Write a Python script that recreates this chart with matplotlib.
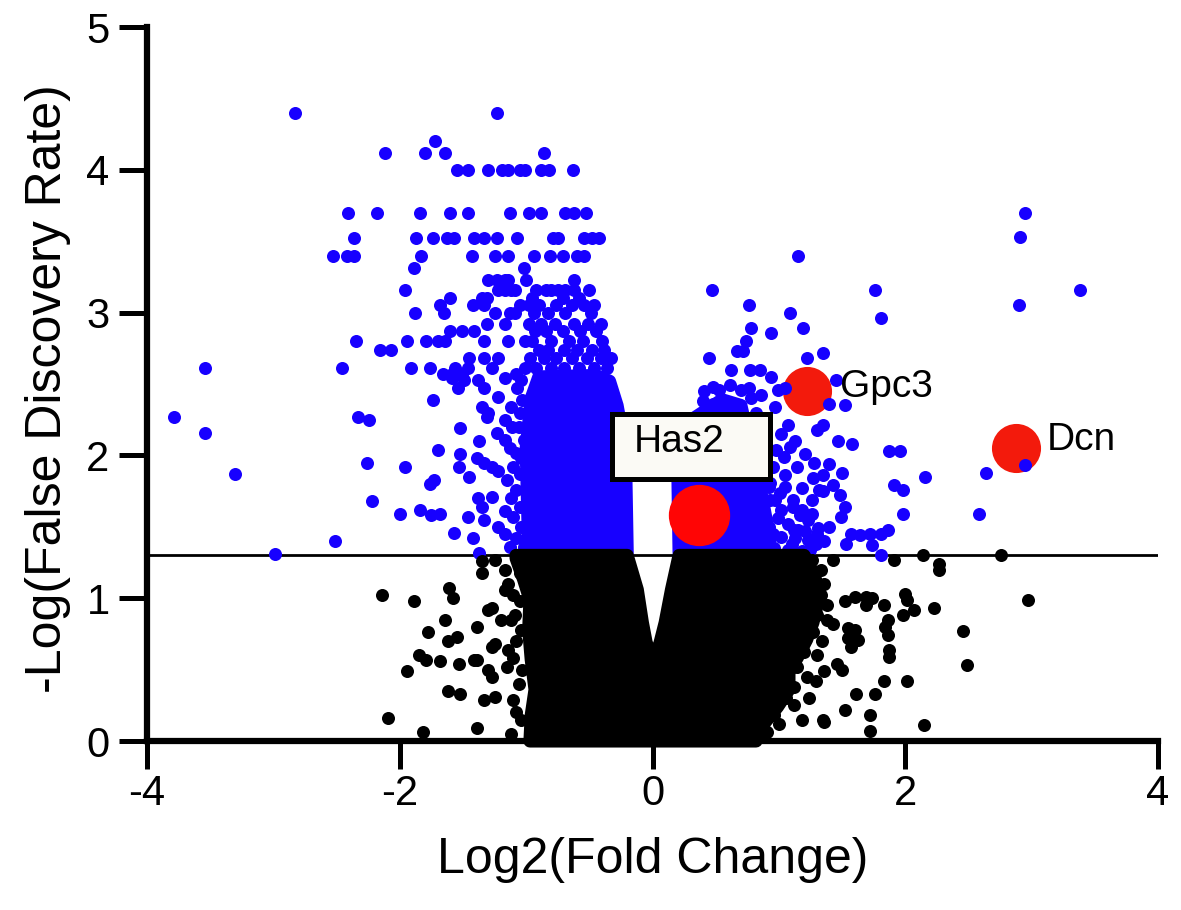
import matplotlib
matplotlib.use("Agg")
import matplotlib.pyplot as plt
from matplotlib.patches import Rectangle

plt.rcParams["font.family"] = ["Liberation Sans", "DejaVu Sans"]
plt.rcParams["axes.unicode_minus"] = False

# ---- values: x = log2 fold change, y = -log10 FDR ----
fdr_cut = 1.3

# significant, down (blue) - grouped by the FDR levels they sit on
blue_left_rows = [
    (4.40, [-2.83, -1.23]),
    (4.20, [-1.72]),
    (4.12, [-2.12, -1.80, -1.64, -0.86]),
    (4.00, [-1.55, -1.46, -1.30, -1.19, -1.14, -1.05, -1.01, -0.88, -0.82, -0.63]),
    (3.70, [-2.41, -2.18, -1.84, -1.60, -1.46, -1.13, -0.98, -0.88, -0.69, -0.62, -0.53]),
    (3.52, [-2.36, -1.87, -1.74, -1.63, -1.57, -1.41, -1.33, -1.23, -1.07, -0.79, -0.75,
            -0.54, -0.48, -0.42]),
    (3.40, [-2.53, -2.42, -2.36, -1.83, -1.43, -1.25, -1.14, -0.94, -0.81, -0.71, -0.60, -0.54]),
    (3.31, [-1.89, -1.02]),
    (3.23, [-1.30, -1.23, -1.17, -1.14, -1.00, -0.62]),
    (3.16, [-1.96, -1.22, -1.17, -1.12, -1.09, -0.92, -0.84, -0.80, -0.75, -0.69, -0.62, -0.50]),
    (3.10, [-1.60, -1.35, -1.31, -0.95, -0.71, -0.58]),
    (3.05, [-1.68, -1.42, -1.33, -1.05, -0.98, -0.90, -0.76, -0.64, -0.54, -0.46]),
    (3.00, [-1.88, -1.65, -1.25, -1.13, -1.09, -0.94, -0.83, -0.69, -0.49]),
    (2.92, [-1.31, -1.17, -0.98, -0.88, -0.77, -0.62, -0.51, -0.41]),
    (2.87, [-1.60, -1.51, -1.41, -0.93, -0.84, -0.71, -0.57, -0.45]),
    (2.80, [-2.35, -1.94, -1.79, -1.70, -1.64, -1.33, -1.14, -1.01, -0.95, -0.80, -0.66,
            -0.55, -0.40]),
    (2.74, [-2.16, -2.07, -0.90, -0.83, -0.70, -0.60, -0.48, -0.38]),
    (2.68, [-1.45, -1.33, -1.22, -0.97, -0.86, -0.76, -0.64, -0.52, -0.41, -0.33]),
    (2.61, [-3.54, -2.46, -1.91, -1.76, -1.56, -1.46, -1.27, -1.01, -0.92, -0.80, -0.70,
            -0.58, -0.46, -0.36]),
    (2.57, [-1.66, -1.59, -1.51, -1.08]),
    (2.54, [-1.59, -1.17]),
    (2.53, [-1.49, -1.38, -1.04]),
    (2.47, [-1.54, -1.33, -1.07]),
    (2.41, [-1.22]),
    (2.39, [-1.74, -1.03]),
    (2.34, [-1.35, -1.12]),
    (2.30, [-1.30, -1.05]),
    (2.27, [-3.79, -2.33, -1.31]),
    (2.25, [-2.24, -1.17]),
    (2.20, [-1.11, -1.06]),
    (2.19, [-1.52]),
    (2.16, [-3.54, -1.23]),
    (2.11, [-1.17, -1.02]),
    (2.10, [-1.37]),
    (2.05, [-1.13]),
    (2.04, [-1.70]),
    (2.02, [-1.08]),
    (2.01, [-1.52]),
    (1.98, [-1.39, -1.04]),
    (1.95, [-2.26, -1.33]),
    (1.92, [-1.96, -1.53, -1.27, -1.10]),
    (1.89, [-1.22]),
    (1.87, [-3.30, -1.05]),
    (1.85, [-1.45]),
    (1.83, [-1.73, -1.15]),
    (1.80, [-1.76]),
    (1.76, [-1.08]),
    (1.71, [-1.27]),
    (1.70, [-1.38, -1.12]),
    (1.68, [-2.22]),
    (1.64, [-1.35, -1.05]),
    (1.62, [-1.84]),
    (1.61, [-1.17]),
    (1.59, [-2.00, -1.68]),
    (1.58, [-1.75]),
    (1.57, [-1.46, -1.10]),
    (1.55, [-1.33]),
    (1.50, [-1.22, -1.04]),
    (1.46, [-1.57]),
    (1.45, [-1.17]),
    (1.42, [-1.42, -1.08]),
    (1.40, [-2.51]),
    (1.36, [-1.13, -1.02]),
    (1.32, [-1.37]),
    (1.31, [-2.99]),
]

# significant, up (blue)
blue_right_pts = [
    (2.95, 3.70), (2.91, 3.53), (2.90, 3.05), (3.38, 3.16), (1.15, 3.40), (0.47, 3.16),
    (1.76, 3.16), (1.81, 2.96), (0.76, 3.05), (1.09, 3.00), (0.78, 2.89), (0.94, 2.86),
    (1.19, 2.89), (0.74, 2.80), (0.67, 2.73), (0.72, 2.73), (0.45, 2.68), (1.22, 2.68),
    (1.35, 2.72), (0.62, 2.60), (0.77, 2.60), (0.85, 2.60), (0.94, 2.55), (0.41, 2.45),
    (0.48, 2.48), (0.53, 2.46), (0.61, 2.49), (0.70, 2.46), (0.76, 2.47), (0.78, 2.40),
    (0.86, 2.42), (0.40, 2.38), (0.48, 2.36), (0.99, 2.46), (1.05, 2.47), (1.45, 2.53),
    (1.40, 2.36), (1.52, 2.35), (0.97, 2.34), (1.30, 2.18), (1.35, 2.21), (1.13, 2.10),
    (1.07, 2.21), (1.02, 2.15), (1.47, 2.10), (1.58, 2.08), (1.21, 2.01), (1.87, 2.03),
    (1.96, 2.03), (1.40, 1.94), (1.50, 1.88), (1.35, 1.86), (2.16, 1.85), (2.64, 1.88),
    (2.58, 1.59), (1.91, 1.79), (1.98, 1.76), (1.98, 1.59), (1.86, 1.48), (1.81, 1.45),
    (1.81, 1.30), (1.57, 1.45), (1.64, 1.44), (1.72, 1.45), (1.74, 1.37), (1.53, 1.38),
    (1.43, 1.79), (1.35, 1.75), (1.48, 1.72), (1.52, 1.64), (1.49, 1.57), (1.40, 1.50),
    (1.31, 1.49), (1.18, 1.77), (1.26, 1.69), (1.32, 1.76), (1.11, 1.64), (1.17, 1.58),
    (1.26, 1.59), (1.12, 1.48), (1.21, 1.47), (1.29, 1.38), (1.07, 1.34), (1.18, 1.33),
    (1.04, 1.99), (0.95, 1.92), (0.93, 1.81), (1.01, 1.74), (0.93, 1.69), (1.05, 1.78),
    (1.11, 1.69), (1.18, 1.62), (1.23, 1.55), (1.30, 1.45), (1.15, 1.48), (1.07, 1.52),
    (1.02, 1.62), (0.97, 1.69), (1.23, 1.41), (1.10, 1.38), (1.02, 1.43), (0.92, 1.50),
    (0.86, 1.57), (0.81, 1.66), (0.92, 1.78), (0.86, 1.85), (0.78, 1.76),
    (0.96, 1.35), (0.99, 1.56), (1.05, 1.86), (0.98, 2.04), (0.88, 2.00), (0.84, 2.15),
    (0.90, 2.24), (0.82, 2.30), (1.14, 1.92), (1.27, 1.84), (1.13, 1.42), (1.36, 1.40),
    (1.25, 1.34), (0.95, 1.45), (1.09, 2.06), (1.28, 1.95),
]
blue_front_pts = [(2.95, 1.93)]  # the dot sitting on top of Dcn

# non-significant (black)
black_pts = [
    (-2.14, 1.02), (-1.89, 0.98), (-2.09, 0.16), (-1.82, 0.06), (-1.61, 1.07), (-1.58, 1.00),
    (-1.64, 0.85), (-1.78, 0.76), (-1.62, 0.70), (-1.55, 0.73), (-1.85, 0.60), (-1.79, 0.57),
    (-1.68, 0.56), (-1.53, 0.54), (-1.94, 0.49), (-1.62, 0.35), (-1.52, 0.33), (-1.39, 0.80),
    (-1.30, 0.92), (-1.27, 0.93), (-1.35, 1.18), (-1.39, 0.57), (-1.27, 0.66), (-1.25, 0.68),
    (-1.33, 0.29), (-1.25, 0.31), (-1.39, 0.09), (-1.30, 0.50), (-1.27, 0.45), (-1.20, 0.85),
    (-1.12, 0.85), (-1.35, 1.26), (-1.25, 1.27), (-1.17, 1.20), (-1.41, 0.57), (-1.14, 1.10),
    (-1.17, 1.06), (-1.09, 0.88), (-1.14, 0.64), (-1.15, 0.52), (-1.10, 0.29), (-1.06, 1.27),
    (-1.05, 0.98), (-1.08, 0.70), (-1.06, 0.40), (-1.04, 0.15), (-1.05, 1.18), (-1.10, 1.02),
    (-1.04, 0.78), (-1.10, 0.58), (-1.03, 0.50), (-1.08, 0.20), (-1.12, 0.05),
    (1.43, 1.27), (1.91, 1.27), (2.14, 1.30), (2.27, 1.24), (2.27, 1.20), (2.76, 1.30),
    (2.97, 0.99), (2.00, 1.03), (2.01, 0.99), (2.23, 0.93), (2.07, 0.92), (1.98, 0.88),
    (2.46, 0.77), (2.49, 0.53), (1.60, 1.01), (1.69, 1.01), (1.74, 1.00), (1.69, 0.95),
    (1.83, 0.95), (1.86, 0.85), (1.84, 0.80), (1.86, 0.74), (1.87, 0.64), (1.87, 0.59),
    (1.83, 0.42), (2.01, 0.42), (1.61, 0.33), (1.76, 0.33), (1.52, 0.22), (1.72, 0.18),
    (1.72, 0.07), (2.15, 0.11), (1.35, 0.15), (1.36, 0.13), (1.55, 0.79), (1.60, 0.78),
    (1.55, 0.72), (1.63, 0.71), (1.57, 0.66), (1.46, 0.54), (1.50, 0.50), (1.36, 0.49),
    (1.52, 0.98), (1.38, 0.85), (1.43, 0.82), (1.29, 0.42), (1.24, 0.30), (1.18, 0.15),
    (1.33, 1.20), (1.36, 1.10), (1.38, 0.95), (1.34, 0.70), (1.30, 0.60), (1.22, 0.45),
    (1.12, 0.25), (1.00, 0.12), (1.26, 1.27), (1.33, 1.02), (1.30, 0.88), (1.27, 0.76),
    (1.20, 0.62), (1.14, 0.52), (1.12, 0.38), (1.06, 0.30), (0.96, 0.18), (0.91, 0.06),
]

# outlines of the saturated clouds (thousands of overlapping dots near x = 0)
black_cloud_x = [-0.97, -0.96, -0.93, -0.96, -0.98, -0.97, -1.02, -1.08, -1.08, -0.20, -0.12,
                 -0.08, -0.05, 0.01, 0.06, 0.10, 0.15, 0.21, 1.20, 1.27, 1.32, 1.30, 1.27,
                 1.22, 1.15, 1.08, 1.08, 0.99, 0.89, 0.82]
black_cloud_y = [0.00, 0.18, 0.36, 0.57, 0.78, 0.99, 1.13, 1.28, 1.30, 1.30, 1.06, 0.83, 0.69,
                 0.55, 0.69, 0.83, 1.06, 1.30, 1.30, 1.18, 1.06, 0.94, 0.83, 0.71, 0.59, 0.48,
                 0.36, 0.24, 0.13, 0.00]
blue_cloud_left_x = [-0.98, -1.00, -0.96, -0.90, -0.45, -0.34, -0.28, -0.23, -0.21, -0.20]
blue_cloud_left_y = [1.32, 2.05, 2.40, 2.55, 2.56, 2.52, 2.35, 2.11, 1.83, 1.32]
blue_cloud_right_x = [0.21, 0.20, 0.31, 0.55, 0.70, 0.76, 0.84, 0.90, 0.94]
blue_cloud_right_y = [1.32, 1.90, 2.25, 2.39, 2.35, 2.11, 1.83, 1.55, 1.32]

# highlighted genes
genes = ["Has2", "Gpc3", "Dcn"]
gene_x = [0.37, 1.22, 2.88]
gene_y = [1.58, 2.45, 2.05]

BLUE = "#1700ff"
DOT = 88  # marker area, pt^2


def unzip(pts):
    return [p[0] for p in pts], [p[1] for p in pts]


fig = plt.figure(figsize=(11.81, 9.10), dpi=100)
ax = fig.add_axes([0.1245, 0.1857, 0.856, 0.7846])

ax.axhline(fdr_cut, color="black", lw=2, zorder=1)

# Gpc3 / Dcn sit underneath the blue dots, Has2 on top of them
ax.scatter(gene_x[1:], gene_y[1:], s=1250, color="#f31a0c", lw=0, zorder=1.5)

bl_x = [x for y, xs in blue_left_rows for x in xs]
bl_y = [y for y, xs in blue_left_rows for x in xs]
ax.fill(blue_cloud_left_x, blue_cloud_left_y, color=BLUE, lw=9.4, joinstyle="round", zorder=2)
ax.fill(blue_cloud_right_x, blue_cloud_right_y, color=BLUE, lw=9.4, joinstyle="round", zorder=2)
ax.scatter(bl_x, bl_y, s=DOT, color=BLUE, lw=0, zorder=2)
ax.scatter(*unzip(blue_right_pts), s=DOT, color=BLUE, lw=0, zorder=2)

ax.fill(black_cloud_x, black_cloud_y, color="black", lw=9.4, joinstyle="round",
        zorder=3, clip_on=False)
ax.scatter(*unzip(black_pts), s=DOT, color="black", lw=0, zorder=3, clip_on=False)

ax.scatter(gene_x[:1], gene_y[:1], s=1950, color="#ff0505", lw=0, zorder=4)
ax.scatter(*unzip(blue_front_pts), s=DOT, color=BLUE, lw=0, zorder=4)

ax.text(gene_x[1] + 0.26, gene_y[1] + 0.03, genes[1], fontsize=28, va="center", zorder=6)
ax.text(gene_x[2] + 0.24, gene_y[2] + 0.06, genes[2], fontsize=28, va="center", zorder=6)
ax.add_patch(Rectangle((-0.324, 1.835), 1.25, 0.455, fc="#fbfaf5", ec="black", lw=3.6, zorder=5))
ax.text(-0.15, 2.094, genes[0], fontsize=28, va="center", ha="left", zorder=6)

ax.set_xlim(-4, 4)
ax.set_ylim(0, 5)
ax.set_xticks([-4, -2, 0, 2, 4])
ax.set_yticks([0, 1, 2, 3, 4, 5])
for side in ("top", "right"):
    ax.spines[side].set_visible(False)
for side in ("left", "bottom"):
    ax.spines[side].set_linewidth(4.5)
ax.tick_params(width=3.6, length=20, labelsize=30)
ax.tick_params(axis="y", pad=7)
ax.tick_params(axis="x", pad=4)

ax.set_xlabel("Log2(Fold Change)", fontsize=36)
ax.set_ylabel("-Log(False Discovery Rate)", fontsize=36)
ax.xaxis.set_label_coords(0.5, -0.135)
ax.yaxis.set_label_coords(-0.075, 0.494)

fig.savefig("out.png", dpi=100)
